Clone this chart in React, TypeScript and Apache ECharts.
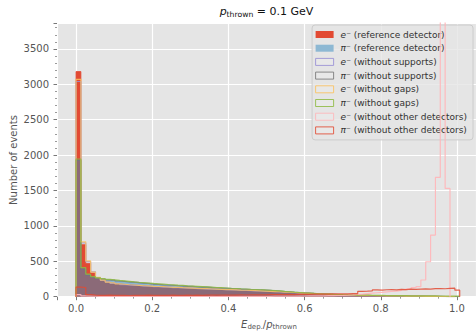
import React, { useEffect, useRef } from "react";
import * as echarts from "echarts";

const BIN_WIDTH = 0.01275;

const LABELS = [
  "e⁻ (reference detector)",
  "π⁻ (reference detector)",
  "e⁻ (without supports)",
  "π⁻ (without supports)",
  "e⁻ (without gaps)",
  "π⁻ (without gaps)",
  "e⁻ (without other detectors)",
  "π⁻ (without other detectors)",
];

const COLORS = ["#E24A33", "#348ABD", "#988ED5", "#777777", "#FBC15E", "#8EBA42", "#FFB5B8", "#E24A33"];

const eRef = [3180, 735, 470, 335, 262, 228, 203, 191, 180, 173, 166, 163, 157, 153, 148, 146, 140, 139, 133, 131, 129, 124, 122, 118, 116, 112, 111, 106, 105, 101, 99, 97, 93, 92, 88, 86, 84, 80, 78, 75, 72, 69, 65, 62, 57, 54, 50, 47, 43, 40, 37, 35, 31, 29, 27, 25, 23, 21, 20, 18, 16, 15, 14, 13, 12, 11, 10, 9, 8, 7, 6, 6, 5, 4, 3, 3, 2, 1, 0, 0];
const piRef = [1930, 390, 305, 272, 256, 246, 238, 229, 224, 214, 210, 203, 196, 192, 185, 181, 172, 170, 166, 160, 158, 152, 149, 145, 140, 138, 133, 131, 127, 124, 120, 117, 112, 110, 106, 103, 100, 97, 93, 90, 86, 80, 74, 70, 64, 60, 55, 51, 47, 44, 40, 37, 34, 31, 29, 26, 24, 22, 20, 19, 17, 16, 15, 14, 13, 12, 11, 10, 9, 8, 8, 7, 6, 5, 4, 3, 3, 2, 1, 0];
const eNoSup = [3040, 760, 495, 352, 270, 231, 208, 188, 183, 170, 168, 160, 159, 150, 151, 143, 142, 136, 135, 129, 127, 126, 120, 120, 114, 113, 108, 108, 103, 102, 98, 96, 95, 90, 89, 85, 83, 81, 77, 74, 71, 67, 64, 60, 56, 53, 49, 46, 42, 39, 36, 34, 30, 28, 26, 24, 22, 21, 19, 17, 16, 15, 14, 12, 11, 10, 10, 9, 8, 7, 6, 5, 5, 4, 3, 2, 2, 1, 0, 0];
const piNoSup = [1925, 400, 312, 276, 262, 249, 236, 233, 222, 217, 208, 205, 198, 190, 187, 178, 175, 168, 165, 162, 155, 153, 147, 146, 139, 136, 134, 129, 126, 122, 119, 115, 113, 108, 105, 101, 99, 95, 92, 88, 84, 79, 73, 69, 63, 59, 54, 50, 46, 43, 39, 36, 33, 30, 28, 25, 23, 21, 20, 19, 17, 16, 15, 13, 12, 11, 10, 9, 9, 8, 7, 6, 5, 5, 4, 3, 2, 2, 1, 0];
const eNoGap = [3070, 775, 505, 348, 275, 235, 206, 194, 182, 176, 169, 165, 160, 155, 152, 147, 144, 141, 137, 133, 131, 127, 124, 121, 118, 115, 113, 109, 107, 104, 101, 99, 96, 93, 91, 88, 85, 82, 79, 76, 73, 70, 66, 63, 59, 55, 51, 48, 44, 41, 38, 35, 32, 30, 28, 26, 24, 22, 20, 19, 17, 16, 14, 13, 12, 11, 10, 9, 8, 7, 7, 6, 5, 4, 3, 3, 2, 1, 0, 0];
const piNoGap = [1945, 410, 318, 283, 266, 255, 244, 238, 230, 224, 217, 210, 204, 199, 193, 187, 182, 177, 172, 168, 163, 159, 154, 150, 146, 142, 138, 134, 130, 127, 123, 119, 116, 112, 109, 105, 102, 98, 95, 91, 87, 81, 75, 70, 64, 59, 54, 50, 46, 42, 38, 35, 32, 30, 28, 26, 24, 23, 22, 21, 20, 19, 18, 17, 16, 15, 15, 14, 13, 13, 12, 12, 11, 11, 10, 10, 9, 9, 8, 0];
const eNoOther = [30, 12, 8, 7, 6, 6, 5, 5, 5, 4, 5, 4, 4, 4, 3, 4, 3, 3, 3, 3, 3, 3, 3, 3, 3, 3, 3, 4, 3, 4, 4, 4, 4, 5, 5, 5, 5, 6, 6, 6, 7, 7, 8, 8, 9, 9, 10, 11, 12, 12, 13, 14, 15, 17, 19, 22, 26, 31, 37, 44, 50, 56, 62, 68, 74, 80, 88, 100, 112, 128, 141, 236, 494, 871, 1686, 4300, 1530, 0, 0, 0];
const piNoOther = [135, 130, 28, 22, 20, 19, 21, 18, 20, 19, 17, 20, 18, 19, 21, 18, 20, 19, 18, 21, 20, 19, 22, 20, 21, 19, 22, 21, 23, 22, 24, 23, 22, 25, 24, 26, 25, 27, 26, 28, 29, 28, 30, 31, 30, 33, 32, 34, 36, 35, 38, 37, 40, 39, 42, 41, 44, 43, 76, 78, 82, 96, 92, 98, 100, 97, 103, 101, 106, 104, 108, 110, 107, 113, 115, 112, 118, 120, 92, 0];

const COUNTS = [eRef, piRef, eNoSup, piNoSup, eNoGap, piNoGap, eNoOther, piNoOther];

const FONT = "DejaVu Sans";

function steps(counts: number[]): number[][] {
  let last = counts.length - 1;
  while (last > 0 && counts[last] === 0) last--;
  const pts: number[][] = [[0, 0]];
  for (let i = 0; i <= last; i++) {
    pts.push([i * BIN_WIDTH, counts[i]], [(i + 1) * BIN_WIDTH, counts[i]]);
  }
  pts.push([(last + 1) * BIN_WIDTH, 0]);
  return pts;
}

const FILL_OPACITY = [1, 0.5, 0, 0, 0, 0, 0, 0];
const LINE_OPACITY = [1, 0.5, 0.85, 0.85, 0.85, 0.85, 0.9, 0.85];

export default function App() {
  const ref = useRef<HTMLDivElement>(null);
  useEffect(() => {
    if (!ref.current) return;
    const chart = echarts.init(ref.current, undefined, { renderer: "svg" });

    const series = COUNTS.map((c, k) => {
      const filledRef = k === 0 || k === 1;
      const s: any = {
        type: "line",
        name: LABELS[k],
        data: steps(c),
        showSymbol: false,
        symbol: "none",
        silent: true,
        z: 2 + k,
        lineStyle: {
          color: COLORS[k],
          width: filledRef ? 0.8 : 1.2,
          opacity: LINE_OPACITY[k],
        },
      };
      if (FILL_OPACITY[k] > 0) s.areaStyle = { color: COLORS[k], opacity: FILL_OPACITY[k] };
      return s;
    });

    const legendData = LABELS.map((n, k) => {
      if (k === 0) return { name: n, icon: "rect", itemStyle: { color: "#E24A33", borderWidth: 0 } };
      if (k === 1) return { name: n, icon: "rect", itemStyle: { color: "#8DB8D3", borderWidth: 0 } };
      return {
        name: n,
        icon: "rect",
        itemStyle: { color: "rgba(236,236,236,0.6)", borderColor: COLORS[k], borderWidth: 1, opacity: 0.85 },
      };
    });

    chart.setOption({
      animation: false,
      grid: {
        left: 57,
        right: 0,
        top: 23,
        bottom: 34.3,
        show: true,
        backgroundColor: "#E5E5E5",
        borderWidth: 0,
      },
      xAxis: {
        type: "value",
        min: -0.05,
        max: 1.05,
        splitNumber: 5,
        axisLine: { show: false, onZero: false },
        axisTick: { show: true, length: 3.5, lineStyle: { color: "#555555", width: 0.8 } },
        minorTick: { show: true, splitNumber: 4, length: 2, lineStyle: { color: "#555555", width: 0.6 } },
        axisLabel: {
          color: "#555555",
          fontSize: 10,
          fontFamily: FONT,
          margin: 7,
          showMinLabel: false,
          showMaxLabel: false,
          formatter: (v: number) => v.toFixed(1),
        },
        splitLine: { show: true, lineStyle: { color: "#FFFFFF", width: 1.2 } },
      },
      yAxis: {
        type: "value",
        min: 0,
        max: 3866,
        interval: 500,
        axisLine: { show: false, onZero: false },
        axisTick: { show: true, length: 3.5, lineStyle: { color: "#555555", width: 0.8 } },
        minorTick: { show: true, splitNumber: 5, length: 2, lineStyle: { color: "#555555", width: 0.6 } },
        axisLabel: {
          color: "#555555",
          fontSize: 10,
          fontFamily: FONT,
          margin: 8,
          showMaxLabel: false,
          formatter: (v: number) => String(v),
        },
        splitLine: { show: true, lineStyle: { color: "#FFFFFF", width: 1.2 } },
      },
      legend: {
        orient: "vertical",
        right: 3,
        top: 25,
        selectedMode: false,
        backgroundColor: "rgba(229,229,229,0.8)",
        borderColor: "#CCCCCC",
        borderWidth: 1,
        borderRadius: 3,
        padding: [4, 6, 4, 3],
        itemWidth: 18,
        itemHeight: 7,
        itemGap: 2.7,
        textStyle: {
          fontSize: 9,
          fontFamily: FONT,
          color: "#333333",
          lineHeight: 11,
          padding: [0, 0, 0, 2],
          rich: {
            i: { fontSize: 9, fontFamily: FONT, fontStyle: "italic", color: "#333333", lineHeight: 11 },
          },
        },
        formatter: (n: string) => `{i|${n.charAt(0)}}${n.slice(1)}`,
        data: legendData,
      },
      graphic: [
        {
          type: "text",
          x: 266.5,
          y: 11,
          style: {
            text: "{i|p}{s|thrown}{n| = 0.1 GeV}",
            align: "center",
            verticalAlign: "middle",
            rich: {
              i: { fontSize: 11, fontFamily: FONT, fontStyle: "italic", fill: "#111", lineHeight: 14, verticalAlign: "middle" },
              s: { fontSize: 7.7, fontFamily: FONT, fill: "#111", lineHeight: 14, verticalAlign: "bottom" },
              n: { fontSize: 11, fontFamily: FONT, fill: "#111", lineHeight: 14, verticalAlign: "middle" },
            },
          },
        },
        {
          type: "text",
          x: 269,
          y: 324,
          style: {
            text: "{i|E}{s|dep.}{n|/}{i|p}{s|thrown}",
            align: "center",
            verticalAlign: "middle",
            rich: {
              i: { fontSize: 10, fontFamily: FONT, fontStyle: "italic", fill: "#555555", lineHeight: 13, verticalAlign: "middle" },
              s: { fontSize: 7, fontFamily: FONT, fill: "#555555", lineHeight: 13, verticalAlign: "bottom" },
              n: { fontSize: 10, fontFamily: FONT, fill: "#555555", lineHeight: 13, verticalAlign: "middle" },
            },
          },
        },
        {
          type: "text",
          x: 13,
          y: 160,
          rotation: Math.PI / 2,
          style: {
            text: "Number of events",
            align: "center",
            verticalAlign: "middle",
            fontSize: 10,
            fontFamily: FONT,
            fill: "#555555",
          },
        },
      ],
      series,
    });

    return () => chart.dispose();
  }, []);

  return (
    <div
      ref={ref}
      style={{ position: "absolute", left: 0, top: 0, width: 476, height: 331 }}
    />
  );
}
